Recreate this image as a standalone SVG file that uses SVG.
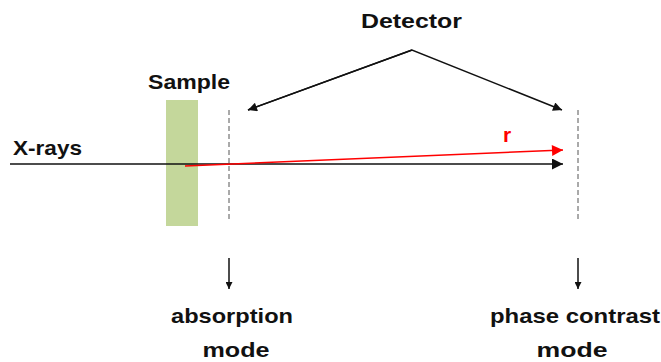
<svg xmlns="http://www.w3.org/2000/svg" width="661" height="362" viewBox="0 0 661 362">
<style>
.t{font-family:"Liberation Sans",Arial,sans-serif;font-weight:bold;font-size:21px;fill:#111;}
.ln{stroke:#111;stroke-width:1.5;fill:none;}
.dash{stroke:#555;stroke-width:1;stroke-dasharray:5 3;fill:none;}
</style>
<defs>
<marker id="ah" viewBox="0 0 10 10" refX="10" refY="5" markerWidth="11" markerHeight="9" markerUnits="userSpaceOnUse" orient="auto"><path d="M0,0 L10,5 L0,10 z" fill="#111"/></marker>
<marker id="ahr" viewBox="0 0 10 10" refX="10" refY="5" markerWidth="16" markerHeight="11" markerUnits="userSpaceOnUse" orient="auto"><path d="M0,0 L10,5 L0,10 z" fill="#f00"/></marker>
<marker id="ahb" viewBox="0 0 10 10" refX="10" refY="5" markerWidth="16" markerHeight="11" markerUnits="userSpaceOnUse" orient="auto"><path d="M0,0 L10,5 L0,10 z" fill="#111"/></marker>
<marker id="ahs" viewBox="0 0 10 10" refX="10" refY="5" markerWidth="9" markerHeight="7" markerUnits="userSpaceOnUse" orient="auto"><path d="M0,0 L10,5 L0,10 z" fill="#111"/></marker>
</defs>
<g id="sample"><rect x="166" y="100" width="32" height="126" fill="#c4d79b"/><text class="t" x="148" y="89" textLength="82" lengthAdjust="spacingAndGlyphs">Sample</text></g>
<g id="detector-label"><text class="t" x="361" y="28" textLength="101" lengthAdjust="spacingAndGlyphs">Detector</text></g>
<g id="detector-abs"><line class="dash" x1="229" y1="110" x2="229" y2="220"/></g>
<g id="detector-phase"><line class="dash" x1="578" y1="110" x2="578" y2="220"/></g>
<g id="xrays-label"><text class="t" x="13" y="155" textLength="69" lengthAdjust="spacingAndGlyphs">X-rays</text></g>
<g id="r-label"><text class="t" x="503" y="142" style="fill:#f00">r</text></g>
<g id="absorption-label"><text class="t" x="232" y="323" text-anchor="middle" textLength="122" lengthAdjust="spacingAndGlyphs">absorption</text><text class="t" x="236" y="357" text-anchor="middle" textLength="67" lengthAdjust="spacingAndGlyphs">mode</text></g>
<g id="phase-label"><text class="t" x="575" y="323" text-anchor="middle" textLength="170" lengthAdjust="spacingAndGlyphs">phase contrast</text><text class="t" x="572" y="357" text-anchor="middle" textLength="71" lengthAdjust="spacingAndGlyphs">mode</text></g>
<g id="connectors">
<line class="ln" x1="10" y1="164" x2="563" y2="164" marker-end="url(#ahb)"/>
<line x1="185" y1="166" x2="563" y2="150" stroke="#f00" stroke-width="1.5" marker-end="url(#ahr)"/>
<polyline class="ln" points="248,110 412,50 562,110" marker-end="url(#ah)"/>
<line class="ln" x1="412" y1="50" x2="248" y2="110" marker-end="url(#ah)"/>
<line class="ln" x1="229" y1="258" x2="229" y2="289" marker-end="url(#ahs)"/>
<line class="ln" x1="578" y1="258" x2="578" y2="289" marker-end="url(#ahs)"/>
</g>
</svg>
